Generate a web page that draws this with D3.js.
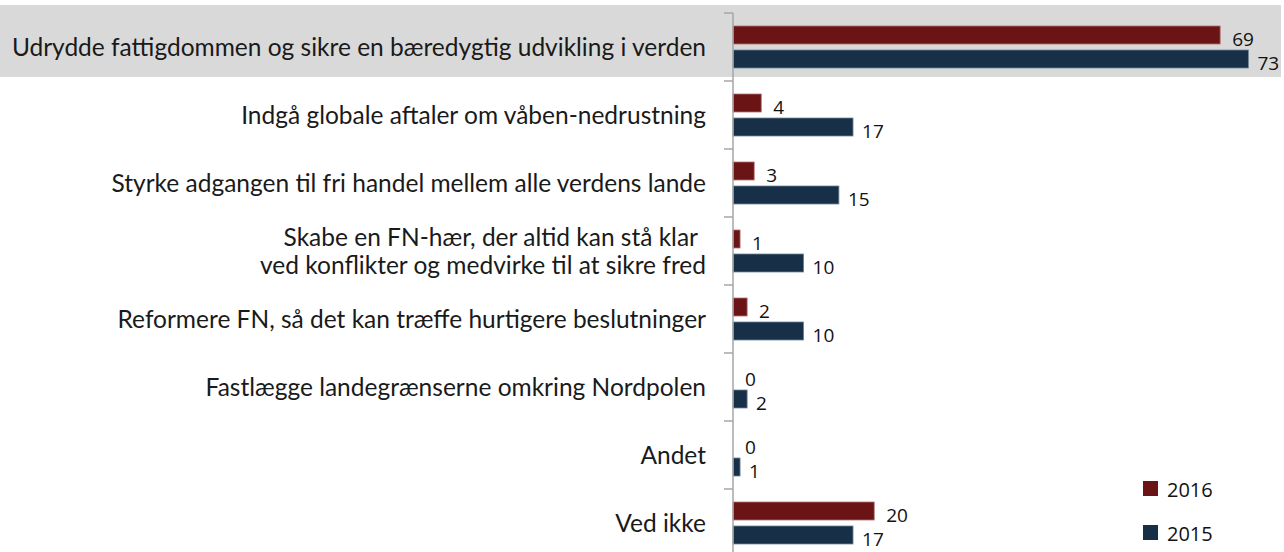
<!DOCTYPE html>
<html>
<head>
<meta charset="utf-8">
<script src="https://cdn.jsdelivr.net/npm/d3@7"></script>
<style>
  body { margin: 0; background: #fff; }
  svg { display: block; }
</style>
</head>
<body>
<div class="plot"></div>
<script>
// Data
const categories = [
  "Udrydde fattigdommen og sikre en bæredygtig udvikling i verden",
  "Indgå globale aftaler om våben-nedrustning",
  "Styrke adgangen til fri handel mellem alle verdens lande",
  "Skabe en FN-hær, der altid kan stå klar|ved konflikter og medvirke til at sikre fred",
  "Reformere FN, så det kan træffe hurtigere beslutninger",
  "Fastlægge landegrænserne omkring Nordpolen",
  "Andet",
  "Ved ikke"
];
const values2016 = [69, 4, 3, 1, 2, 0, 0, 20];
const values2015 = [73, 17, 15, 10, 10, 2, 1, 17];
const seriesNames = ["2016", "2015"];
const colors = ["#6b1416", "#173047"];

const W = 1284, H = 552;
const axisX = 733;

const svg = d3.select(".plot")
  .append("svg")
    .attr("width", W)
    .attr("height", H);

// y band for each category, 68px each starting at 13
const y = d3.scaleBand()
  .domain(d3.range(categories.length))
  .range([13, 13 + 68 * categories.length])
  .paddingInner(0)
  .paddingOuter(0);

const x = d3.scaleLinear()
  .domain([0, 78])
  .range([axisX, axisX + 78 * 7.06]);

// highlight band for first category
svg.append("rect")
  .attr("x", 0)
  .attr("y", 5)
  .attr("width", 1281)
  .attr("height", 72)
  .attr("fill", "#d9d9d9");

// category labels
const labelFont = "Lato, 'Open Sans', sans-serif";
categories.forEach((c, i) => {
  const lines = c.split("|");
  const cy = y(i) + y.bandwidth() / 2;
  const t = svg.append("text")
    .attr("text-anchor", "end")
    .attr("font-family", labelFont)
    .attr("font-size", 24.5)
    .attr("fill", "#1a1a1a");
  lines.forEach((l, j) => {
    t.append("tspan")
      .attr("x", i === 3 && j === 0 ? 698 : 706)
      .attr("y", cy + (j - (lines.length - 1) / 2) * 28)
      .attr("dy", "0.35em")
      .text(l);
  });
});

// bars
const barH = 18, gap = 6;
const series = [values2016, values2015];
series.forEach((vals, s) => {
  const g = svg.append("g");
  g.selectAll("rect")
    .data(vals)
    .enter()
    .append("rect")
      .attr("x", x(0))
      .attr("y", (d, i) => y(i) + y.bandwidth() / 2 + (s === 0 ? -gap / 2 - barH : gap / 2))
      .attr("width", d => x(d) - x(0))
      .attr("height", barH)
      .attr("fill", colors[s])
      .attr("stroke", s === 0 ? "#b07070" : "#6f8499")
      .attr("stroke-width", d => d > 0 ? 0.8 : 0);

  g.selectAll("text")
    .data(vals)
    .enter()
    .append("text")
      .attr("x", d => x(d) + (s === 0 ? 12 : 9))
      .attr("y", (d, i) => y(i) + y.bandwidth() / 2 + (s === 0 ? -gap / 2 - barH / 2 + 4 : gap / 2 + barH / 2 + 4))
      .attr("dy", "0.35em")
      .attr("font-family", "'Open Sans', sans-serif")
      .attr("font-size", 19)
      .attr("fill", "#111")
      .text(d => d);
});

// axis
const axis = svg.append("g");
axis.append("line")
  .attr("x1", axisX).attr("x2", axisX)
  .attr("y1", 13).attr("y2", H)
  .attr("stroke", "#a6a6a6")
  .attr("stroke-width", 1.5);
axis.selectAll("line.tick")
  .data(d3.range(categories.length + 1))
  .enter()
  .append("line")
    .attr("class", "tick")
    .attr("x1", axisX - 9).attr("x2", axisX)
    .attr("y1", i => 13 + 68 * i).attr("y2", i => 13 + 68 * i)
    .attr("stroke", "#a6a6a6")
    .attr("stroke-width", 1.5);

// legend
const legend = svg.append("g")
  .selectAll("g")
  .data(seriesNames)
  .enter()
  .append("g")
  .attr("transform", (d, i) => `translate(1143, ${481 + i * 44})`);
legend.append("rect")
  .attr("width", 15)
  .attr("height", 15)
  .attr("fill", (d, i) => colors[i]);
legend.append("text")
  .attr("x", 24)
  .attr("y", 8)
  .attr("dy", "0.4em")
  .attr("font-family", "'Open Sans', sans-serif")
  .attr("font-size", 20)
  .attr("fill", "#111")
  .text(d => d);
</script>
</body>
</html>
